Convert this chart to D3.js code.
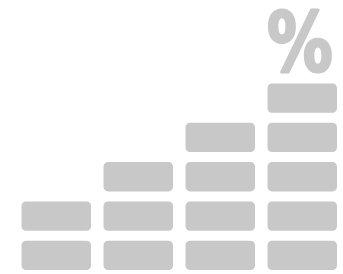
<!DOCTYPE html>
<html>
<head>
<meta charset="utf-8">
<script src="https://cdn.jsdelivr.net/npm/d3@7"></script>
<style>
  body { margin: 0; background: #fff; }
</style>
</head>
<body>
<div id="chart-area"></div>
<script>
// DATA
var columns = ["A", "B", "C", "D"];
var blockCounts = [2, 3, 4, 5];
var symbolText = "%";

// SIZE
var width = 343;
var height = 274;
var fill = "#c8c8c8";

var svg = d3.select("#chart-area")
    .append("svg")
    .attr("width", width)
    .attr("height", height);

// scales: column -> x, stack level -> y
var x = d3.scaleBand()
    .domain(columns)
    .range([21.5, 349.5])
    .paddingInner(0)
    .paddingOuter(0);
var blockW = 69.5;

var y = d3.scaleLinear()
    .domain([0, 1])
    .range([240.7, 201.4]);
var blockH = 29.3;

// flatten blocks
var blocks = [];
columns.forEach(function (c, i) {
    d3.range(blockCounts[i]).forEach(function (lvl) {
        blocks.push({ col: c, level: lvl });
    });
});

svg.selectAll("rect.block")
    .data(blocks)
    .enter().append("rect")
    .attr("class", "block")
    .attr("x", d => x(d.col))
    .attr("y", d => y(d.level))
    .attr("width", blockW)
    .attr("height", blockH)
    .attr("rx", 4.5)
    .attr("fill", fill);

// percent sign above last column
var cx = x(columns[columns.length - 1]) + blockW / 2 - 2.5;
svg.append("text")
    .attr("x", 0)
    .attr("y", 0)
    .attr("text-anchor", "middle")
    .attr("font-family", "DejaVu Sans, sans-serif")
    .attr("font-weight", "bold")
    .attr("font-size", "82px")
    .attr("fill", fill)
    .attr("stroke", fill)
    .attr("stroke-width", 3)
    .attr("stroke-linejoin", "round")
    .attr("transform", "translate(" + cx + ",70.5) scale(0.8,1)")
    .text(symbolText);
</script>
</body>
</html>
